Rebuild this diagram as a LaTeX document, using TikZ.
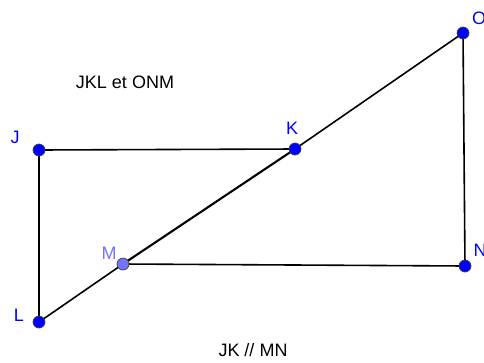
\documentclass[tikz,border=0pt]{standalone}
\usepackage{fontspec}
\setmainfont{Liberation Sans}
\usetikzlibrary{calc, positioning}

\begin{document}
\begin{tikzpicture}[x=1pt, y=-1pt,
  pt/.style={circle, fill=blue, draw=black!75, line width=0.7pt, inner sep=0pt, minimum size=12pt},
  lbl/.style={text=blue, font=\fontsize{18}{18}\selectfont},
  seg/.style={line width=1.6pt}]
\useasboundingbox (0,0) rectangle (484,362);

% points
\coordinate (J) at (39,150);
\coordinate (K) at (295,149);
\coordinate (L) at (39,322);
\coordinate (M) at (123,264);
\coordinate (N) at (465,266);
\coordinate (O) at (463,33);

% sides
\draw[seg] (J) -- (K);
\draw[seg] (J) -- (L);
\draw[seg] (L) -- (M);
\draw[line width=2.1pt] (M) -- (K);
\draw[seg] (K) -- (O);
\draw[seg] (M) -- (N);
\draw[seg] (N) -- (O);

\node[pt] (Jpt) at (J) {};
\node[pt] (Kpt) at (K) {};
\node[pt] (Lpt) at (L) {};
\node[pt, fill=blue!55] (Mpt) at (M) {};
\node[pt] (Npt) at (N) {};
\node[pt] (Opt) at (O) {};

\node[lbl] (Jlbl) at (15,137) {J};
\node[lbl] (Klbl) at (292,128) {K};
\node[lbl] (Llbl) at (19,315) {L};
\node[lbl, text=blue!55] (Mlbl) at (109,253) {M};
\node[lbl] (Nlbl) at (480,250) {N};
\node[lbl] (Olbl) at (479,18) {O};

\node[font=\fontsize{18}{18}\selectfont] (title) at (125,82) {JKL et ONM};
\node[font=\fontsize{18}{18}\selectfont] (note) at (253,350) {JK // MN};
\end{tikzpicture}
\end{document}
